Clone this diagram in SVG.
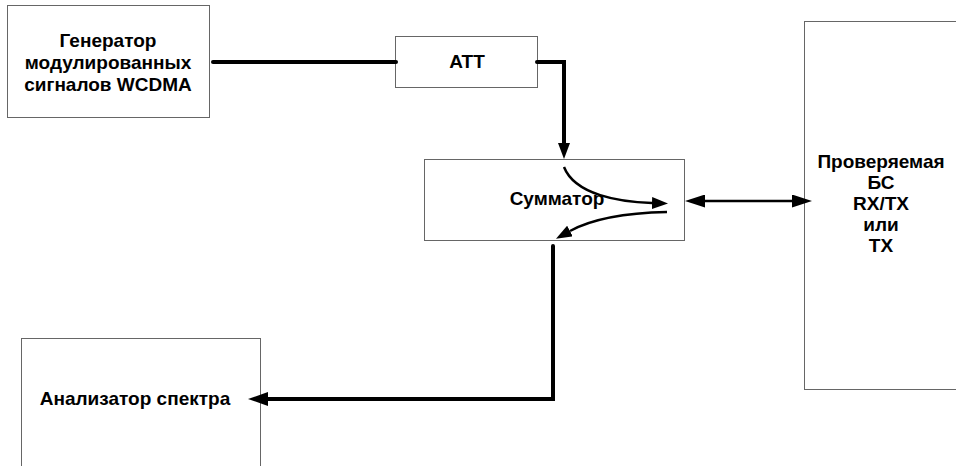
<svg xmlns="http://www.w3.org/2000/svg" width="956" height="466" viewBox="0 0 956 466">
<style>
.box{fill:#fff;stroke:#666;stroke-width:1}
.t{font-family:"Liberation Sans",Arial,sans-serif;font-weight:bold;font-size:19px;fill:#000;text-anchor:middle}
.thick{fill:none;stroke:#000;stroke-width:4;stroke-linecap:round;stroke-linejoin:miter}
.thin{fill:none;stroke:#000;stroke-width:2.5}
</style>
<defs>
<marker id="ah" viewBox="0 0 16 12" markerWidth="16" markerHeight="12" refX="0" refY="6" orient="auto" markerUnits="userSpaceOnUse">
<path d="M0,0 L16,6 L0,12 z" fill="#000"/>
</marker>
<marker id="ahL" viewBox="0 0 20 14" markerWidth="20" markerHeight="14" refX="0" refY="7" orient="auto" markerUnits="userSpaceOnUse">
<path d="M0,0 L20,7 L0,14 z" fill="#000"/>
</marker>
<marker id="ahD" viewBox="0 0 20 13" markerWidth="20" markerHeight="13" refX="0" refY="6.5" orient="auto-start-reverse" markerUnits="userSpaceOnUse">
<path d="M0,0 L20,6.5 L0,13 z" fill="#000"/>
</marker>
</defs>
<rect width="956" height="466" fill="#fff"/>
<g id="gen">
<rect class="box" x="7.5" y="5.5" width="202" height="112"/>
<text class="t" x="108" y="47">Генератор</text>
<text class="t" x="108" y="69">модулированных</text>
<text class="t" x="108" y="91">сигналов WCDMA</text>
</g>
<g id="att">
<rect class="box" x="395.5" y="36.5" width="142" height="51"/>
<text class="t" x="467" y="68">ATT</text>
</g>
<g id="sum">
<rect class="box" x="424.5" y="159.5" width="260" height="81"/>
<text class="t" x="557" y="205">Сумматор</text>
</g>
<g id="bs">
<rect class="box" x="804.5" y="21.5" width="200" height="368"/>
<text class="t" x="881" y="168">Проверяемая</text>
<text class="t" x="881" y="189">БС</text>
<text class="t" x="881" y="210">RX/TX</text>
<text class="t" x="881" y="231">или</text>
<text class="t" x="881" y="252">TX</text>
</g>
<g id="an">
<rect class="box" x="21.5" y="338.5" width="239" height="200"/>
<text class="t" x="135" y="405">Анализатор спектра</text>
</g>
<g id="connectors">
<path class="thick" d="M213,62 L396,62"/>
<path class="thick" d="M537,62 L564,62 L564,143" marker-end="url(#ah)"/>
<path class="thin" d="M564,167 C575,195 620,202 652,203" marker-end="url(#ah)"/>
<path class="thin" d="M667,212 C620,213 590,220 570,231" marker-end="url(#ah)"/>
<path class="thin" d="M705,201 L792,201" marker-start="url(#ahD)" marker-end="url(#ahD)"/>
<path class="thick" d="M553,246 L553,399 L268,399" marker-end="url(#ahL)"/>
</g>
</svg>
